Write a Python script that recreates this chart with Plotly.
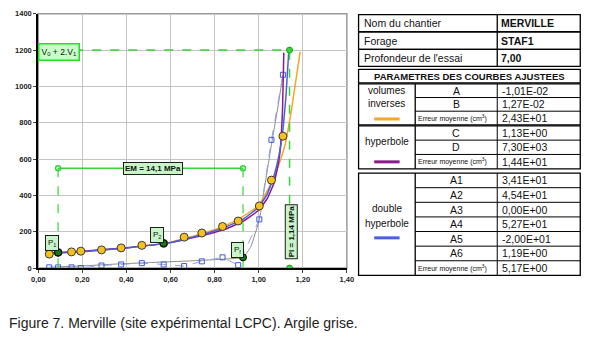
import plotly.graph_objects as go

W, H = 598, 352


def px(x):
    return x / W


def py(y):
    return 1 - y / H


# ---------------- data ----------------
pressure = [0.05, 0.09, 0.151, 0.193, 0.287, 0.376, 0.47, 0.569, 0.662, 0.742, 0.836, 0.907, 1.003, 1.058, 1.11]
volume = [77, 86, 89, 93, 100, 111, 125, 136, 170, 193, 229, 259, 342, 484, 726]
creep = [4, 4, 4, 0, 14, 20, 27, 20, 11, 37, 59, 16, 268, 706, 1064]

# characteristic points
key_p = [0.09, 0.569]
key_v = [86, 136]
pf_p = [0.929]
pf_v = [59]

# fitted curves
inv_p = [0.05, 0.2, 0.4, 0.6, 0.75, 0.85, 0.93, 1.0, 1.05, 1.08, 1.10, 1.12, 1.15, 1.188]
inv_v = [82, 90, 110, 142, 192, 235, 285, 345, 450, 530, 600, 680, 880, 1190]
hyp_p = [0.05, 0.2, 0.4, 0.6, 0.75, 0.85, 0.93, 1.0, 1.04, 1.07, 1.09, 1.10, 1.108, 1.114]
hyp_v = [83, 92, 112, 140, 180, 215, 258, 318, 385, 470, 580, 680, 860, 1186]
dhyp_p = [0.05, 0.2, 0.4, 0.6, 0.75, 0.85, 0.93, 1.0, 1.04, 1.07, 1.095, 1.11, 1.124, 1.136]
dhyp_v = [80, 90, 111, 140, 186, 226, 270, 335, 410, 510, 640, 760, 950, 1185]
grey_p = [0.05, 0.2, 0.35, 0.5, 0.7, 0.85, 0.929, 0.965, 1.003, 1.03, 1.058, 1.085, 1.11]
grey_v = [5, 12, 22, 30, 40, 50, 59, 120, 268, 470, 680, 870, 1064]

# construction lines
V_limit = 1200
P_limit = 1.14
EM_level = 550
EM_p = [0.09, 0.929]

x_ticks = [0, 0.2, 0.4, 0.6, 0.8, 1.0, 1.2, 1.4]
x_labels = ["0,00", "0,20", "0,40", "0,60", "0,80", "1,00", "1,20", "1,40"]
y_ticks = [0, 200, 400, 600, 800, 1000, 1200, 1400]
y_labels = ["0", "200", "400", "600", "800", "1000", "1200", "1400"]

header_labels = ["Nom du chantier", "Forage", "Profondeur de l'essai"]
header_values = ["MERVILLE", "STAF1", "7,00"]
inv_names = ["A", "B", "Erreur moyenne (cm³)"]
inv_vals = ["-1,01E-02", "1,27E-02", "2,43E+01"]
hyp_names = ["C", "D", "Erreur moyenne (cm³)"]
hyp_vals = ["1,13E+00", "7,30E+03", "1,44E+01"]
dh_names = ["A1", "A2", "A3", "A4", "A5", "A6", "Erreur moyenne (cm³)"]
dh_vals = ["3,41E+01", "4,54E+01", "0,00E+00", "5,27E+01", "-2,00E+01", "1,19E+00", "5,17E+00"]

caption = "Figure 7. Merville (site expérimental LCPC). Argile grise."

ORANGE = "#F5A623"
PURPLE = "#8B1A8B"
BLUE = "#4A5FE0"
GREEN = "#33D633"
FONT = "Liberation Sans, Arial, sans-serif"

fig = go.Figure()

# grey curve
fig.add_trace(go.Scatter(x=grey_p, y=grey_v, mode="lines", line=dict(color="#8c8c8c", width=1, shape="spline", smoothing=0.4)))
# creep points, dashed
fig.add_trace(go.Scatter(x=pressure, y=creep, mode="lines+markers",
                         line=dict(color="#8fa0f0", width=1, dash="dash"),
                         marker=dict(symbol="square-open", size=5, color="#3d5ce0", line=dict(width=1))))
# fitted curves
fig.add_trace(go.Scatter(x=inv_p, y=inv_v, mode="lines", line=dict(color=ORANGE, width=1.5, shape="spline", smoothing=0.3)))
fig.add_trace(go.Scatter(x=hyp_p, y=hyp_v, mode="lines", line=dict(color=PURPLE, width=1.5, shape="spline", smoothing=0.3)))
fig.add_trace(go.Scatter(x=dhyp_p, y=dhyp_v, mode="lines", line=dict(color=BLUE, width=1.5, shape="spline", smoothing=0.3)))

# construction lines
fig.add_trace(go.Scatter(x=[0, P_limit, P_limit], y=[V_limit, V_limit, 0], mode="lines",
                         line=dict(color=GREEN, width=1.5, dash="dash")))
fig.add_trace(go.Scatter(x=[P_limit, P_limit], y=[V_limit, 0], mode="markers",
                         marker=dict(color=GREEN, size=6, line=dict(color="#20a020", width=1))))
fig.add_trace(go.Scatter(x=[EM_p[0], EM_p[0]], y=[EM_level, 0], mode="lines",
                         line=dict(color=GREEN, width=1.2, dash="dash")))
fig.add_trace(go.Scatter(x=[EM_p[1], EM_p[1]], y=[EM_level, 0], mode="lines",
                         line=dict(color=GREEN, width=1.2, dash="dash")))
fig.add_trace(go.Scatter(x=EM_p, y=[EM_level, EM_level], mode="lines+markers",
                         line=dict(color=GREEN, width=1.5),
                         marker=dict(symbol="circle-open", size=5, color=GREEN, line=dict(width=1.5))))

# measured points
fig.add_trace(go.Scatter(x=pressure, y=volume, mode="markers",
                         marker=dict(color="#F5C21B", size=8, line=dict(color="#3a3a3a", width=1))))
fig.add_trace(go.Scatter(x=key_p + pf_p, y=key_v + pf_v, mode="markers",
                         marker=dict(color="#157a15", size=7, line=dict(color="#000000", width=1))))

ann = []
shapes = []

# chart labels
box_style = dict(bgcolor="#c8f5c8", bordercolor="#1f1f1f", borderwidth=1, borderpad=1,
                 font=dict(family=FONT, size=8, color="#111"), showarrow=False, xref="x", yref="y")
ann.append(dict(x=0.093, y=1191, text="V<sub>0</sub> + 2.V<sub>1</sub>",
                **{**box_style, "bordercolor": "#22dd22", "borderwidth": 1.5, "bgcolor": "#c8ffc8", "borderpad": 2,
                   "font": dict(family=FONT, size=8.5, color="#111")}))
ann.append(dict(x=0.52, y=547, text="<b>EM = 14,1 MPa</b>", **box_style))
ann.append(dict(x=0.062, y=140, text="P<sub>1</sub>", **{**box_style, "borderpad": 2}))
ann.append(dict(x=0.539, y=184, text="P<sub>2</sub>", **{**box_style, "borderpad": 2}))
ann.append(dict(x=0.906, y=98, text="P<sub>f</sub>", **{**box_style, "borderpad": 2}))
ann.append(dict(x=1.149, y=200, text="<b>Pl = 1,14 MPa</b>", textangle=-90, **box_style))

# plot frame (grey top/right)
shapes.append(dict(type="rect", xref="x domain", yref="y domain", x0=0, x1=1, y0=0, y1=1,
                   line=dict(color="#9a9a9a", width=1.5), layer="below"))

# ---------------- table ----------------
x0, x1, x2, x3 = 360, 418, 502, 587


def line(xa, ya, xb, yb, w=1):
    shapes.append(dict(type="line", xref="paper", yref="paper", x0=px(xa), y0=py(ya), x1=px(xb), y1=py(yb),
                       line=dict(color="#000", width=w)))


def rect(xa, ya, xb, yb, w=1.3):
    shapes.append(dict(type="rect", xref="paper", yref="paper", x0=px(xa), y0=py(ya), x1=px(xb), y1=py(yb),
                       line=dict(color="#000", width=w)))


def text(x, y, s, size=10, anchor="left", bold=False, color="#111"):
    if bold:
        s = "<b>" + s + "</b>"
    ann.append(dict(x=px(x), y=py(y), xref="paper", yref="paper", text=s, showarrow=False,
                    xanchor=anchor, yanchor="middle", font=dict(family=FONT, size=size, color=color)))


hdr_rows = [11, 28.5, 46.5, 64]
for i in range(3):
    rect(x0, hdr_rows[i], x3, hdr_rows[i + 1])
    line(x2, hdr_rows[i], x2, hdr_rows[i + 1], 1.3)
    yc = (hdr_rows[i] + hdr_rows[i + 1]) / 2
    text(x0 + 3, yc, header_labels[i], 10.5)
    text(x2 + 2, yc, header_values[i], 10.5, bold=True)

rect(x0, 67, x3, 81)
text((x0 + x3) / 2, 74, "PARAMETRES DES COURBES AJUSTEES", 9.5, anchor="center", bold=True)


def block(top, rh, names, vals, label_lines, label_y, legend_y, legend_color):
    n = len(names)
    bottom = top + rh * n
    rect(x0, top, x3, bottom)
    line(x1, top, x1, bottom, 1.3)
    line(x2, top, x2, bottom, 1)
    for i in range(1, n):
        line(x1, top + rh * i, x3, top + rh * i, 1)
    for i in range(n):
        yc = top + rh * (i + 0.5)
        if names[i].startswith("Erreur"):
            text(x1 + 1, yc, "Erreur moyenne (cm<sup>3</sup>)", 7)
        else:
            text((x1 + x2) / 2, yc, names[i], 10.5, anchor="center")
        text(x2 + 3, yc, vals[i], 10.5)
    for s, yy in zip(label_lines, label_y):
        text((x0 + x1) / 2, yy, s, 10, anchor="center")
    shapes.append(dict(type="line", xref="paper", yref="paper", x0=px(376), x1=px(402), y0=py(legend_y), y1=py(legend_y),
                       line=dict(color=legend_color, width=3)))


block(82, 14, inv_names, inv_vals, ["volumes", "inverses"], [89, 102], 118, ORANGE)
block(125, 14.7, hyp_names, hyp_vals, ["hyperbole"], [141], 162, PURPLE)
block(173.5, 15.0, dh_names, dh_vals, ["double", "hyperbole"], [210, 225], 240, BLUE)

# caption
ann.append(dict(x=px(0), y=py(327), xref="paper", yref="paper", text=caption, showarrow=False,
                xanchor="left", yanchor="middle", font=dict(family=FONT, size=14, color="#222")))

fig.update_layout(
    width=W, height=H, margin=dict(l=0, r=0, t=0, b=0),
    paper_bgcolor="white", plot_bgcolor="white", showlegend=False,
    annotations=ann, shapes=shapes,
    xaxis=dict(domain=[px(32), px(348)], range=[0, 1.4], tickvals=x_ticks,
               ticktext=["<b>%s</b>" % t for t in x_labels],
               showgrid=True, gridcolor="#c4c4c4", gridwidth=1, zeroline=False,
               showline=True, linecolor="#000", linewidth=2, ticks="outside", ticklen=3,
               tickfont=dict(family=FONT, size=7.5, color="#222")),
    yaxis=dict(domain=[py(271), py(10)], range=[0, 1400], tickvals=y_ticks,
               ticktext=["<b>%s</b>" % t for t in y_labels],
               showgrid=True, gridcolor="#c4c4c4", gridwidth=1, zeroline=False,
               showline=True, linecolor="#000", linewidth=2, ticks="outside", ticklen=3,
               tickfont=dict(family=FONT, size=7.5, color="#222")),
)

fig.write_html("out.html")
